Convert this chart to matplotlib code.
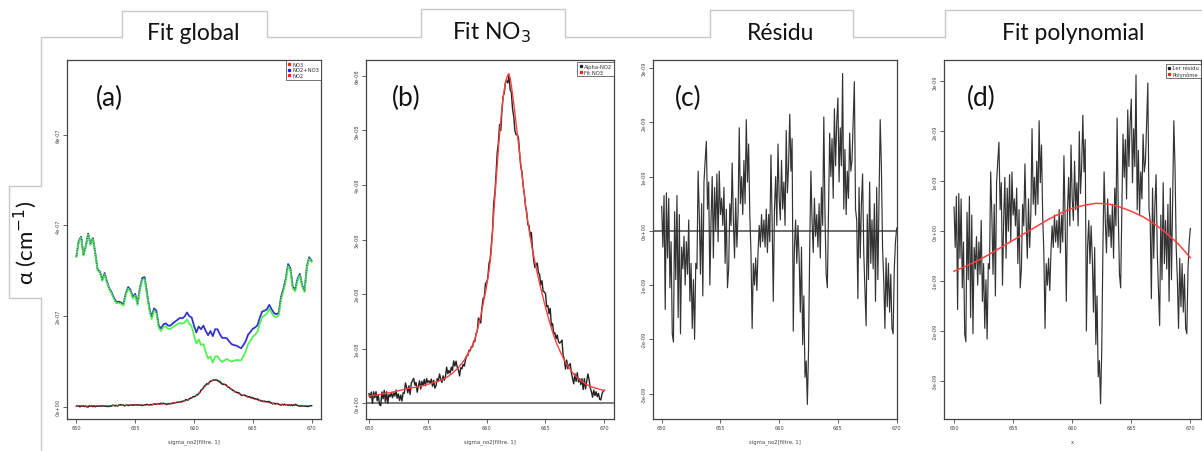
import numpy as np
import matplotlib
matplotlib.use('Agg')
import matplotlib.pyplot as plt
from matplotlib.lines import Line2D
from matplotlib.ticker import FixedLocator, FuncFormatter

# ---------------- data ----------------
x_start, x_stop = 650.0, 670.0

# residual (units 1e-9), 0.1 step from 650.0 to 670.0
residu_e9 = [
    0.45, -0.3, 0.65, -1.45, 0.7, -0.5, 0.6, -1.05, -0.2, -1.9,
    -2.05, 0.35, -0.9, 0.65, -1.6, 0.3, -1.9, -0.3, -0.7, -0.1,
    -1.0, -0.2, -0.8, 0.2, -1.3, -0.6, -1.8, -0.9, -2.0, -0.6,
    -0.7, 1.1, 0.3, -0.8, 0.5, -1.2, 0.9, 1.3, 1.65, 0.4,
    0.9, -1.0, 0.2, 1.0, -0.5, 0.8, 0.0, 1.05, -0.2, 1.1,
    0.3, 0.6, 0.1, 0.8, -0.6, 0.4, -1.05, -0.7, 0.5, 0.1,
    1.25, 0.2, -0.5, 0.6, -0.3, 0.3, 1.9, 0.5, 1.0, 0.3,
    1.3, 0.5, 2.05, 0.9, 1.6, 0.3, -0.4, -1.8, -0.6, -1.0,
    -0.5, -1.1, -0.4, 0.1, -0.3, 0.3, -0.2, 0.2, -0.3, 0.4,
    -0.4, 0.3, -0.2, 1.4, 0.2, -1.3, 0.4, 1.0, 0.1, 1.6,
    0.6, 0.2, 1.3, 0.4, 0.9, 0.1, 1.85, 0.7, 1.2, 2.15,
    1.1, 1.7, -1.85, -0.3, 0.2, -0.6, 0.1, -0.5, -1.5, -0.3,
    -2.1, -1.2, -2.7, -2.4, -3.2, -2.2, -0.3, 1.1, 0.2, -0.4,
    0.6, -0.1, 0.3, -0.3, 0.5, -0.5, 0.8, 0.1, 2.1, 0.3,
    -0.8, -1.05, 0.4, 1.8, 1.0, 1.7, 0.6, 2.25, 1.2, 2.0,
    2.45, 0.9, 1.9, 1.2, 2.9, 0.4, 1.5, 0.3, 1.1, 0.6,
    1.8, 1.1, 1.3, 2.0, 2.75, 0.4, 0.2, -1.25, 0.8, -0.5,
    0.5, 1.05, -0.4, -1.1, -1.75, 0.3, -0.9, 0.9, -0.6, 0.2,
    -0.7, 0.5, -1.3, 0.8, -0.9, 0.6, 2.05, 1.2, -0.3, -0.9,
    -1.8, -0.5, -1.4, -0.6, -1.5, -0.8, -1.8, -1.9, -0.7, -0.2,
    0.05,
]

# NO3 fit (units 1e-8), 0.1 step from 650.0 to 670.0
fit_no3_e8 = [
    0.13, 0.13, 0.14, 0.14, 0.14, 0.15, 0.15, 0.15, 0.16, 0.16,
    0.16, 0.17, 0.17, 0.17, 0.18, 0.18, 0.19, 0.19, 0.19, 0.20,
    0.20, 0.21, 0.21, 0.22, 0.22, 0.23, 0.23, 0.24, 0.24, 0.25,
    0.25, 0.26, 0.26, 0.27, 0.27, 0.28, 0.28, 0.28, 0.29, 0.29,
    0.29, 0.30, 0.30, 0.31, 0.31, 0.32, 0.32, 0.33, 0.34, 0.34,
    0.35, 0.35, 0.36, 0.36, 0.37, 0.38, 0.38, 0.39, 0.40, 0.40,
    0.41, 0.42, 0.43, 0.44, 0.45, 0.46, 0.47, 0.49, 0.50, 0.52,
    0.53, 0.55, 0.57, 0.59, 0.61, 0.63, 0.65, 0.68, 0.71, 0.73,
    0.76, 0.79, 0.83, 0.86, 0.90, 0.94, 0.98, 1.02, 1.06, 1.10,
    1.17, 1.25, 1.33, 1.42, 1.51, 1.60, 1.71, 1.82, 1.93, 2.04,
    2.15, 2.28, 2.43, 2.60, 2.82, 3.15, 3.48, 3.78, 4.08, 4.38,
    4.66, 4.94, 5.18, 5.40, 5.60, 5.75, 5.87, 5.96, 6.02, 6.04,
    5.95, 5.82, 5.66, 5.50, 5.32, 5.14, 4.95, 4.76, 4.56, 4.37,
    4.18, 4.00, 3.82, 3.64, 3.46, 3.32, 3.18, 3.05, 2.92, 2.80,
    2.69, 2.59, 2.49, 2.39, 2.29, 2.19, 2.11, 2.02, 1.93, 1.84,
    1.76, 1.68, 1.60, 1.52, 1.45, 1.38, 1.31, 1.24, 1.18, 1.12,
    1.07, 1.02, 0.97, 0.92, 0.88, 0.83, 0.79, 0.75, 0.71, 0.68,
    0.65, 0.62, 0.59, 0.56, 0.53, 0.51, 0.49, 0.47, 0.45, 0.43,
    0.41, 0.40, 0.38, 0.37, 0.35, 0.34, 0.33, 0.32, 0.31, 0.30,
    0.29, 0.29, 0.28, 0.27, 0.27, 0.26, 0.25, 0.25, 0.24, 0.24,
    0.23,
]

# NO2+NO3 total (units 1e-7), 0.2 step from 650.0 to 670.0
total_e7 = [
    3.32, 3.66, 3.75, 3.35, 3.55,
    3.82, 3.59, 3.72, 3.40, 3.03,
    2.98, 2.80, 2.95, 2.76, 2.61,
    2.52, 2.40, 2.31, 2.32, 2.30,
    2.26, 2.50, 2.64, 2.58, 2.42,
    2.49, 2.28, 2.62, 2.84, 2.86,
    2.52, 2.18, 1.98, 2.17, 2.12,
    1.79, 1.73, 1.82, 1.84, 1.79,
    1.79, 1.84, 1.88, 1.92, 1.96,
    1.95, 1.99, 2.08, 2.00, 1.97,
    1.79, 1.64, 1.77, 1.71, 1.79,
    1.67, 1.58, 1.67, 1.56, 1.71,
    1.71, 1.60, 1.52, 1.52, 1.51,
    1.44, 1.38, 1.36, 1.35, 1.32,
    1.29, 1.36, 1.45, 1.59, 1.65,
    1.72, 1.75, 1.80, 1.97, 2.10,
    2.12, 2.15, 2.25, 2.15, 2.07,
    2.04, 2.07, 2.42, 2.60, 2.82,
    3.15, 3.05, 2.65, 2.58, 2.82,
    2.93, 2.68, 2.56, 3.10, 3.30,
    3.22,
]

# polynomial fit of the residual (units 1e-9), 1.0 step
poly_e9 = [-0.80, -0.70, -0.59, -0.46, -0.32, -0.18, -0.04, 0.10, 0.24, 0.36,
           0.46, 0.52, 0.56, 0.55, 0.49, 0.40, 0.29, 0.14, -0.04, -0.26, -0.53]
# scale of the "1er résidu" trace in (d) relative to (c) (read from peaks)
d_scale = 1.08

x_tick_vals = [650, 655, 660, 665, 670]
yt_a = [0, 2e-7, 4e-7, 6e-7]
yt_b = [0, 1e-8, 2e-8, 3e-8, 4e-8, 5e-8, 6e-8]
yt_cd = [-3e-9, -2e-9, -1e-9, 0, 1e-9, 2e-9, 3e-9]

tab_titles = ['Fit global', 'Fit NO$_3$', 'Résidu', 'Fit polynomial']
panel_tags = ['(a)', '(b)', '(c)', '(d)']
xlabels = ['sigma_no2[filtre, 1]', 'sigma_no2[filtre, 1]', 'sigma_no2[filtre, 1]', 'x']
leg_a = ['NO3', 'NO2+NO3', 'NO2']
leg_b = ['Alpha-NO2', 'Fit NO3']
leg_d = ['1er résidu', 'Polynôme']

# ---------------- derived arrays ----------------
residu = np.array(residu_e9) * 1e-9
fit_no3 = np.array(fit_no3_e8) * 1e-8
x_fine = np.round(np.arange(len(residu)) * 0.1 + x_start, 2)
alpha_no2 = fit_no3 + residu
total = np.array(total_e7) * 1e-7
x_coarse = np.round(np.arange(len(total)) * 0.2 + x_start, 2)
no2 = total - fit_no3[::2]
poly = np.array(poly_e9) * 1e-9
x_poly = np.arange(len(poly)) * 1.0 + x_start

# ---------------- figure ----------------
W, H = 1202, 452
fig = plt.figure(figsize=(W / 100, H / 100), dpi=100)
TXT = ['Lato', 'DejaVu Sans']

ov = fig.add_axes([0, 0, 1, 1])
ov.set_xlim(0, W)
ov.set_ylim(H, 0)
ov.axis('off')
path_x = [41, 41, 9, 9, 41, 41, 122, 122, 267, 267, 421, 421, 565, 565, 710, 710, 853, 853, 945, 945, 1202]
path_y = [452, 299, 299, 187, 187, 38, 38, 12, 12, 38, 38, 10, 10, 38, 38, 11, 11, 38, 38, 11, 11]
ov.plot(path_x, path_y, color='#c9c9c9', lw=1.0, solid_joinstyle='miter')
tab_cx = [193, 492, 781, 1073]
for cx, t in zip(tab_cx, tab_titles):
    ov.text(cx, 33, t, ha='center', va='center', fontsize=16.5, family=TXT, color='#111111')
ov.text(25, 243, 'α (cm$^{-1}$)', rotation=90, ha='center', va='center', fontsize=16,
        family=TXT, color='#111111')


def px_axes(l, r, t, b):
    return fig.add_axes([l / W, 1 - b / H, (r - l) / W, (b - t) / H])


def style(ax, xlim, ylim, yticks, xlabel):
    ax.set_xlim(*xlim)
    ax.set_ylim(*ylim)
    ax.patch.set_alpha(0)
    for s in ax.spines.values():
        s.set_color('#444444')
        s.set_linewidth(0.9)
    ax.xaxis.set_major_locator(FixedLocator(x_tick_vals))
    ax.yaxis.set_major_locator(FixedLocator(yticks))
    ax.yaxis.set_major_formatter(FuncFormatter(lambda v, p: '0e+00' if v == 0 else f'{v:.0e}'))
    ax.tick_params(length=3, width=0.6, color='#444444', labelsize=3.6, labelcolor='#444444', pad=1.5)
    for lab in ax.get_yticklabels():
        lab.set_rotation(90)
        lab.set_va('center')
        lab.set_ha('right')
    ax.set_xlabel(xlabel, fontsize=3.8, color='#444444', labelpad=6)


def rlegend(ax, labels, colors, dy=0):
    handles = [Line2D([], [], ls='none', marker='s', ms=1.4, color=c) for c in colors]
    leg = ax.legend(handles, labels, loc='upper right', fontsize=3.8, frameon=True, fancybox=False,
                    borderpad=0.35, handletextpad=0.2, handlelength=0.7, labelspacing=0.12,
                    borderaxespad=0, bbox_to_anchor=(1.0, 1.0 - dy))
    fr = leg.get_frame()
    fr.set_edgecolor('#333333')
    fr.set_linewidth(0.6)
    for t in leg.get_texts():
        t.set_color('#333333')


# (a)
axa = px_axes(67, 321, 61, 420)
axa.plot(x_coarse, total, color='#3a3ae8', lw=1.3)
axa.plot(x_coarse, no2, color='#55f055', lw=1.3)
axa.plot(x_coarse, total, color='#202060', lw=0.6, ls=(0, (1, 2)))
axa.plot(x_fine, alpha_no2, color='#222222', lw=1.1)
axa.plot(x_fine, fit_no3, color='#ff3030', lw=0.8, ls=(0, (2, 2)))
style(axa, (649.2, 670.8), (-0.27e-7, 7.65e-7), yt_a, xlabels[0])
rlegend(axa, leg_a, ['#ff2020', '#2020ff', '#ff2020'])

# (b)
axb = px_axes(366, 614, 61, 420)
axb.axhline(0, color='#666666', lw=1.2)
axb.plot(x_fine, alpha_no2, color='#222222', lw=1.0)
axb.plot(x_fine, fit_no3, color='#ff4040', lw=1.0)
style(axb, (649.75, 670.82), (-0.29e-8, 6.29e-8), yt_b, xlabels[1])
rlegend(axb, leg_b, ['#222222', '#ff2020'], dy=0.006)

# (c)
axc = px_axes(653, 897, 61, 420)
axc.axhline(0, color='#555555', lw=1.2)
axc.plot(x_fine, residu, color='#333333', lw=0.85)
style(axc, (649.26, 670.03), (-3.47e-9, 3.15e-9), yt_cd, xlabels[2])

# (d)
axd = px_axes(944, 1201, 61, 420)
axd.plot(x_fine, residu * d_scale, color='#333333', lw=0.85)
axd.plot(x_poly, poly, color='#ff4040', lw=1.1)
style(axd, (649.15, 670.9), (-3.76e-9, 3.43e-9), yt_cd, xlabels[3])
rlegend(axd, leg_d, ['#222222', '#ff2020'], dy=0.01)

for ax, tag, cx in zip([axa, axb, axc, axd], panel_tags, [109, 406, 688, 981]):
    ov.text(cx, 98, tag, ha='center', va='center', fontsize=19, family=TXT, color='#111111')

fig.savefig('out.png', dpi=100)
